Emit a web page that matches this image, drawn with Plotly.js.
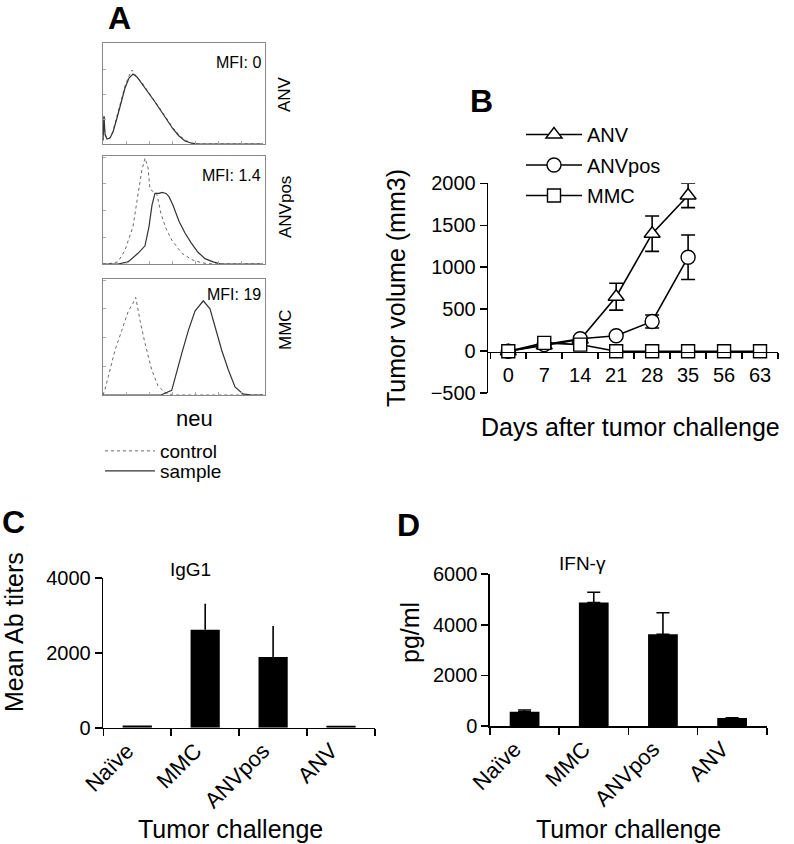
<!DOCTYPE html>
<html><head><meta charset="utf-8">
<script src="https://cdn.plot.ly/plotly-3.0.1.min.js"></script>
<style>body{margin:0;padding:0;background:#fff}#chart{width:794px;height:844px}</style>
</head><body><div id="chart"></div>
<script>
// ---------- Panel A: flow cytometry histograms (channel, % of max) ----------
const h1CtrlX = [0, 0.5, 1, 2, 4, 7, 10, 14, 18, 22, 26, 29, 33, 40, 46, 52, 58, 64, 70, 76, 82, 88, 95, 160];
const h1CtrlY = [3, 20, 27, 9, 5, 6, 13, 28, 44, 58, 68, 74, 68, 60, 51, 43, 34, 25, 16, 9, 4, 1, 0, 0];
const h1SampX = [0, 0.5, 1, 2, 4, 7, 10, 14, 18, 22, 26, 30, 34, 40, 46, 52, 58, 64, 70, 76, 82, 88, 95, 160];
const h1SampY = [4, 22, 28, 10, 5, 6, 12, 26, 42, 56, 66, 70, 67, 59, 50, 42, 33, 24, 15, 8, 3, 1, 0, 0];

const h2CtrlX = [0, 5, 15, 22, 30, 35, 38.7, 42, 45, 47, 50, 54, 58, 63, 69, 79, 89, 99, 110, 160];
const h2CtrlY = [0, 0, 2, 13, 35, 66, 87, 99, 90, 70, 68, 65, 47, 33, 22, 10, 4, 1, 0, 0];
const h2SampX = [0, 15, 25, 35, 42, 46, 49, 52, 56, 59, 63, 66, 70, 76, 82, 88, 95, 102, 110, 118, 160];
const h2SampY = [0, 0, 2, 10, 17, 35, 55, 66, 66, 67, 66, 63, 55, 40, 29, 20, 11, 5, 2, 0, 0];

const h3CtrlX = [0, 2, 5.3, 12, 18.7, 25.3, 30, 32.7, 37, 42, 48.7, 55, 62, 70, 160];
const h3CtrlY = [0, 5, 16, 39, 56, 73, 80, 85, 65, 45, 22, 8, 2, 0, 0];
const h3SampX = [0, 58, 63, 68.7, 78.7, 85.3, 92, 100.3, 107, 112, 118.7, 125.3, 132, 140, 148, 160];
const h3SampY = [0, 0, 2, 4, 36, 56, 73, 82, 75, 59, 39, 22, 7, 1, 0, 0];

const mfiLabels = ["MFI: 0", "MFI: 1.4", "MFI: 19"];
const histRowLabels = ["ANV", "ANVpos", "MMC"];

// ---------- Panel B: tumor growth ----------
const days = ["0", "7", "14", "21", "28", "35", "56", "63"];
const anvDays = ["0", "7", "14", "21", "28", "35"];
const anvVol = [0, 70, 140, 650, 1400, 1855];
const anvErr = [NaN, NaN, NaN, 160, 210, 145];
const anvPosDays = ["0", "7", "14", "21", "28", "35"];
const anvPosVol = [0, 80, 150, 185, 355, 1120];
const anvPosErr = [NaN, NaN, NaN, NaN, 78, 265];
const mmcVol = [0, 100, 80, 0, 0, 0, 0, 0];
const bTicks = [-500, 0, 500, 1000, 1500, 2000];

// ---------- Panels C & D: bar charts ----------
const groups = ["Naïve", "MMC", "ANVpos", "ANV"];
const igg1 = [60, 2620, 1890, 50];
const igg1Err = [0, 700, 830, 0];
const ifng = [560, 4880, 3630, 320];
const ifngErr = [70, 410, 850, 0];
const cTicks = [0, 2000, 4000];
const dTicks = [0, 2000, 4000, 6000];

const FONT = "Liberation Sans, Arial, Helvetica, sans-serif";
const W = 794, H = 844;
const px = v => v / W;
const py = v => 1 - v / H;

const ctrlLine = {color: "#6a6a6a", width: 1, dash: "dot"};
const sampLine = {color: "#333", width: 1.2};

const traces = [
  {x: h1CtrlX, y: h1CtrlY, xaxis: "x", yaxis: "y", mode: "lines", line: ctrlLine, name: "control", legend: "legend", showlegend: true},
  {x: h1SampX, y: h1SampY, xaxis: "x", yaxis: "y", mode: "lines", line: sampLine, name: "sample", legend: "legend3", showlegend: true},
  {x: h2CtrlX, y: h2CtrlY, xaxis: "x2", yaxis: "y2", mode: "lines", line: ctrlLine, showlegend: false},
  {x: h2SampX, y: h2SampY, xaxis: "x2", yaxis: "y2", mode: "lines", line: sampLine, showlegend: false},
  {x: h3CtrlX, y: h3CtrlY, xaxis: "x3", yaxis: "y3", mode: "lines", line: ctrlLine, showlegend: false},
  {x: h3SampX, y: h3SampY, xaxis: "x3", yaxis: "y3", mode: "lines", line: sampLine, showlegend: false},

  {x: anvDays, y: anvVol, xaxis: "x4", yaxis: "y4", name: "ANV", legend: "legend2", legendgroup: "g1",
   mode: "lines+markers", line: {color: "#000", width: 1.6},
   marker: {symbol: "triangle-up", size: 14, color: "#fff", line: {color: "#000", width: 1.4}},
   error_y: {type: "data", array: anvErr, visible: true, color: "#000", thickness: 1.6, width: 7}},
  {x: anvPosDays, y: anvPosVol, xaxis: "x4", yaxis: "y4", name: "ANVpos", legend: "legend2", legendgroup: "g2",
   mode: "lines+markers", line: {color: "#000", width: 1.6},
   marker: {symbol: "circle", size: 14, color: "#fff", line: {color: "#000", width: 1.4}},
   error_y: {type: "data", array: anvPosErr, visible: true, color: "#000", thickness: 1.6, width: 7}},
  {x: days, y: mmcVol, xaxis: "x4", yaxis: "y4", name: "MMC", legend: "legend2", legendgroup: "g3",
   mode: "lines+markers", line: {color: "#000", width: 1.6},
   marker: {symbol: "square", size: 13, color: "#fff", line: {color: "#000", width: 1.4}}},

  {x: groups, y: igg1, type: "bar", xaxis: "x5", yaxis: "y5", width: 0.43, showlegend: false,
   marker: {color: "#000"},
   error_y: {type: "data", symmetric: false, array: igg1Err, arrayminus: [0, 0, 0, 0], color: "#000", thickness: 1.6, width: 0}},
  {x: groups, y: ifng, type: "bar", xaxis: "x6", yaxis: "y6", width: 0.43, showlegend: false,
   marker: {color: "#000"},
   error_y: {type: "data", symmetric: false, array: ifngErr, arrayminus: [0, 0, 0, 0], color: "#000", thickness: 1.6, width: 6.5}}
];

function histAxes(xd, yd) {
  const common = {showline: true, mirror: true, linecolor: "#888", linewidth: 1, ticks: "inside", ticklen: 3,
    tickcolor: "#aaa", showticklabels: false, showgrid: false, zeroline: false, fixedrange: true};
  return [
    Object.assign({}, common, {domain: xd, range: [0, 162], tick0: 0, dtick: 23}),
    Object.assign({}, common, {domain: yd, range: [0, 101], tick0: 0, dtick: 25})
  ];
}
const [xa1, ya1] = histAxes([px(103), px(265)], [py(144), py(43)]);
const [xa2, ya2] = histAxes([px(103), px(265)], [py(264), py(156)]);
const [xa3, ya3] = histAxes([px(103), px(265)], [py(395), py(279)]);
ya1.anchor = "x"; xa1.anchor = "y";
ya2.anchor = "x2"; xa2.anchor = "y2";
ya3.anchor = "x3"; xa3.anchor = "y3";

const axisLine = {showline: true, linecolor: "#000", linewidth: 1.6, showgrid: false, zeroline: false,
  ticks: "outside", tickcolor: "#000", tickwidth: 1.6, fixedrange: true};

const legendBase = {xanchor: "left", yanchor: "top", bgcolor: "rgba(0,0,0,0)", borderwidth: 0};

const layout = {
  width: W, height: H, margin: {l: 0, r: 0, t: 0, b: 0},
  paper_bgcolor: "#fff", plot_bgcolor: "rgba(0,0,0,0)",
  font: {family: FONT, color: "#000", size: 18},
  hovermode: false,
  xaxis: xa1, yaxis: ya1, xaxis2: xa2, yaxis2: ya2, xaxis3: xa3, yaxis3: ya3,
  xaxis4: Object.assign({}, axisLine, {type: "category", categoryorder: "array", categoryarray: days,
    domain: [px(488.3), px(778)], range: [-0.556, 7.5], anchor: "free", position: py(351.7),
    tickson: "boundaries", ticklen: 6, tickfont: {size: 20}, ticklabelstandoff: 5}),
  yaxis4: Object.assign({}, axisLine, {domain: [py(393.3), py(183.3)], range: [-500, 2000], anchor: "x4",
    tickvals: bTicks, ticklen: 7, tickfont: {size: 20}}),
  xaxis5: Object.assign({}, axisLine, {type: "category", domain: [px(103.3), px(375)], range: [-0.5, 3.5],
    anchor: "y5", tickson: "boundaries", ticklen: 7, tickangle: -45, tickfont: {size: 22}, ticklabelshift: -10}),
  yaxis5: Object.assign({}, axisLine, {domain: [py(727.7), py(578.3)], range: [0, 4000], anchor: "x5",
    tickvals: cTicks, ticklen: 7, tickfont: {size: 20}}),
  xaxis6: Object.assign({}, axisLine, {type: "category", domain: [px(490), px(766.7)], range: [-0.5, 3.5],
    anchor: "y6", tickson: "boundaries", ticklen: 7, tickangle: -45, tickfont: {size: 22}, ticklabelshift: -10}),
  yaxis6: Object.assign({}, axisLine, {domain: [py(726), py(574.3)], range: [0, 6000], anchor: "x6",
    tickvals: dTicks, ticklen: 7, tickfont: {size: 20}}),
  legend: Object.assign({}, legendBase, {x: px(100), y: py(432), font: {size: 19}, itemwidth: 50}),
  legend3: Object.assign({}, legendBase, {x: px(100), y: py(452), font: {size: 19}, itemwidth: 50}),
  legend2: Object.assign({}, legendBase, {x: px(521), y: py(115), font: {size: 20}, tracegroupgap: 1.5,
    itemwidth: 56, traceorder: "grouped"}),
  annotations: [
    {text: "<b>A</b>", x: px(119), y: py(18), font: {size: 32}},
    {text: "<b>B</b>", x: px(481), y: py(101), font: {size: 32}},
    {text: "<b>C</b>", x: px(13), y: py(522), font: {size: 32}},
    {text: "<b>D</b>", x: px(408), y: py(525), font: {size: 32}},
    {text: mfiLabels[0], x: px(263), y: py(62), xanchor: "right", font: {size: 16}},
    {text: mfiLabels[1], x: px(263), y: py(176), xanchor: "right", font: {size: 16}},
    {text: mfiLabels[2], x: px(263), y: py(294), xanchor: "right", font: {size: 16}},
    {text: histRowLabels[0], x: px(285), y: py(94), textangle: -90, font: {size: 17}},
    {text: histRowLabels[1], x: px(285), y: py(207), textangle: -90, font: {size: 17}},
    {text: histRowLabels[2], x: px(285), y: py(330), textangle: -90, font: {size: 17}},
    {text: "neu", x: px(194), y: py(418), font: {size: 22}},
    {text: "Tumor volume (mm3)", x: px(396), y: py(288), textangle: -90, font: {size: 25}},
    {text: "Days after tumor challenge", x: px(630), y: py(427), font: {size: 25}},
    {text: "IgG1", x: px(190), y: py(569), font: {size: 19}},
    {text: "IFN-γ", x: px(582), y: py(563), font: {size: 19}},
    {text: "Mean Ab titers", x: px(14), y: py(632), textangle: -90, font: {size: 25}},
    {text: "pg/ml", x: px(410), y: py(632), textangle: -90, font: {size: 25}},
    {text: "Tumor challenge", x: px(230), y: py(829), font: {size: 25}},
    {text: "Tumor challenge", x: px(628), y: py(829), font: {size: 25}}
  ].map(a => Object.assign({xref: "paper", yref: "paper", showarrow: false, xanchor: "center", yanchor: "middle"}, a))
};

Plotly.newPlot("chart", traces, layout, {staticPlot: true, displayModeBar: false});
</script></body></html>
